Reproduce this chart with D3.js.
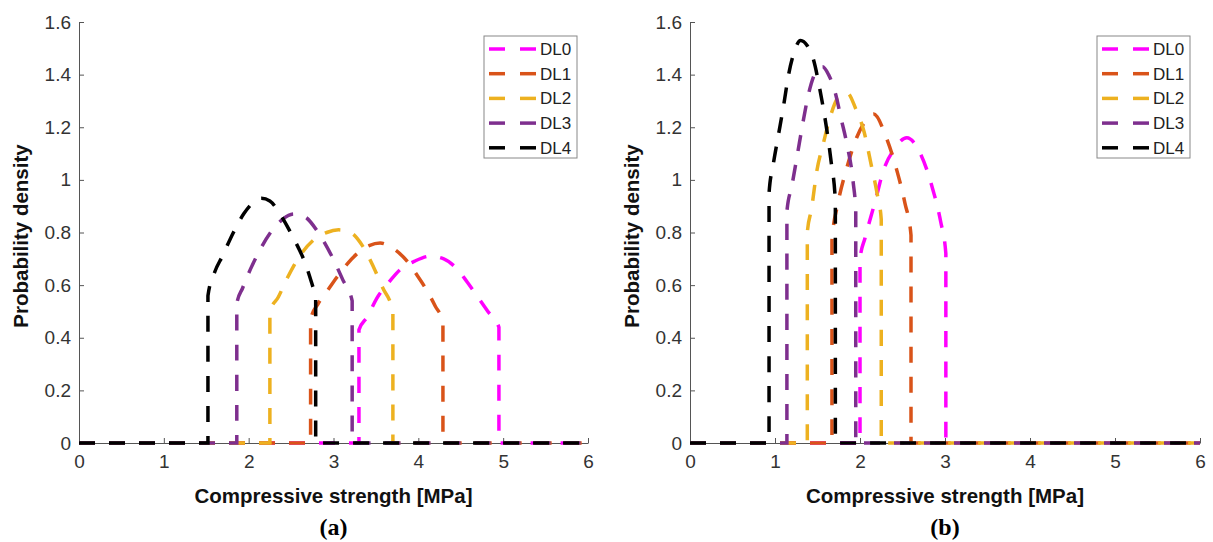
<!DOCTYPE html>
<html>
<head>
<meta charset="UTF-8">
<script src="https://d3js.org/d3.v7.min.js"></script>
<style>
  body { margin: 0; background: #fff; }
  text { font-family: "Liberation Sans", Arial, sans-serif; }
</style>
</head>
<body>
<script>
// series names and colours (MATLAB-like)
const names  = ["DL0", "DL1", "DL2", "DL3", "DL4"];
const colors = ["#ff00ff", "#d95319", "#edb120", "#7e2f8e", "#000000"];

const xTicks = [0, 1, 2, 3, 4, 5, 6];
const yTicks = [0, 0.2, 0.4, 0.6, 0.8, 1, 1.2, 1.4, 1.6];

// panel (a) - [x, density]
const a_DL0 = [[0,0],[3.30,0],[3.30,0.43],[3.40,0.48],[3.51,0.55],[3.65,0.61],[3.79,0.66],[3.95,0.69],[4.14,0.71],[4.30,0.70],[4.46,0.66],[4.58,0.61],[4.69,0.56],[4.82,0.50],[4.95,0.44],[4.95,0],[6,0]];
const a_DL1 = [[0,0],[2.73,0],[2.73,0.47],[2.82,0.53],[2.93,0.58],[3.04,0.63],[3.16,0.68],[3.28,0.72],[3.42,0.75],[3.55,0.76],[3.70,0.74],[3.87,0.69],[3.98,0.64],[4.10,0.58],[4.20,0.52],[4.29,0.46],[4.29,0],[6,0]];
const a_DL2 = [[0,0],[2.25,0],[2.25,0.50],[2.35,0.555],[2.46,0.63],[2.58,0.70],[2.76,0.77],[2.92,0.80],[3.06,0.81],[3.20,0.80],[3.34,0.75],[3.47,0.67],[3.58,0.59],[3.70,0.50],[3.70,0],[6,0]];
const a_DL3 = [[0,0],[1.86,0],[1.86,0.53],[1.93,0.59],[2.02,0.66],[2.11,0.72],[2.28,0.81],[2.40,0.85],[2.53,0.87],[2.66,0.86],[2.82,0.80],[2.98,0.71],[3.11,0.62],[3.22,0.54],[3.22,0],[6,0]];
const a_DL4 = [[0,0],[1.52,0],[1.52,0.56],[1.60,0.65],[1.69,0.71],[1.82,0.80],[1.94,0.87],[2.04,0.91],[2.15,0.93],[2.25,0.92],[2.35,0.88],[2.51,0.79],[2.67,0.68],[2.78,0.57],[2.79,0.56],[2.79,0],[6,0]];

// panel (b)
const b_DL0 = [[0,0],[2.00,0],[2.00,0.70],[2.06,0.78],[2.18,0.92],[2.27,1.03],[2.41,1.12],[2.55,1.16],[2.71,1.10],[2.86,0.96],[2.95,0.84],[3.01,0.72],[3.01,0],[6,0]];
const b_DL1 = [[0,0],[1.67,0],[1.67,0.77],[1.74,0.91],[1.84,1.04],[1.96,1.16],[2.08,1.23],[2.16,1.25],[2.31,1.16],[2.43,1.04],[2.53,0.91],[2.60,0.79],[2.60,0],[6,0]];
const b_DL2 = [[0,0],[1.38,0],[1.38,0.80],[1.43,0.89],[1.49,1.03],[1.57,1.14],[1.65,1.24],[1.76,1.32],[1.85,1.33],[1.95,1.27],[2.05,1.18],[2.13,1.06],[2.20,0.95],[2.25,0.85],[2.25,0],[6,0]];
const b_DL3 = [[0,0],[1.14,0],[1.14,0.88],[1.20,0.98],[1.26,1.09],[1.33,1.22],[1.39,1.32],[1.48,1.41],[1.56,1.43],[1.63,1.40],[1.71,1.33],[1.78,1.23],[1.85,1.13],[1.92,0.99],[1.95,0.88],[1.95,0],[6,0]];
const b_DL4 = [[0,0],[0.93,0],[0.93,0.95],[0.98,1.06],[1.04,1.17],[1.10,1.28],[1.16,1.40],[1.23,1.49],[1.30,1.53],[1.38,1.51],[1.45,1.46],[1.53,1.34],[1.60,1.21],[1.66,1.07],[1.71,0.92],[1.71,0],[6,0]];

const W = 1213, H = 542;
const svg = d3.select("body").append("svg").attr("width", W).attr("height", H);

function panel(left, right, series, legendX, caption) {
  const top = 22, bottom = 443;
  const x = d3.scaleLinear().domain([0, 6]).range([left, right]);
  const y = d3.scaleLinear().domain([0, 1.6]).range([bottom, top]);
  const g = svg.append("g");

  // axes (ticks inward, MATLAB style)
  const xa = g.append("g").attr("transform", `translate(0,${bottom})`)
    .call(d3.axisBottom(x).tickValues(xTicks).tickFormat(d3.format("d")).tickSizeInner(-5).tickSizeOuter(0).tickPadding(12));
  const ya = g.append("g").attr("transform", `translate(${left},0)`)
    .call(d3.axisLeft(y).tickValues(yTicks).tickFormat(d => d3.format("~g")(d)).tickSizeInner(-5).tickSizeOuter(0).tickPadding(8));
  [xa, ya].forEach(a => {
    a.select(".domain").attr("stroke", "#555").attr("stroke-width", 1);
    a.selectAll(".tick line").attr("stroke", "#555");
    a.selectAll(".tick text").attr("fill", "#333").style("font-size", "19px")
      .style("font-family", "'Liberation Sans', Arial, sans-serif");
  });

  const line = d3.line().x(d => x(d[0])).y(d => y(d[1])).curve(d3.curveMonotoneX);
  series.forEach((s, i) => {
    g.append("path").datum(s)
      .attr("fill", "none").attr("stroke", colors[i])
      .attr("stroke-width", 3.5).attr("stroke-dasharray", "16,14")
      .attr("d", line);
  });

  // axis titles
  g.append("text").attr("x", (left + right) / 2).attr("y", 503)
    .attr("text-anchor", "middle").style("font-size", "20.5px").style("font-weight", "bold")
    .attr("fill", "#111").text("Compressive strength [MPa]");
  g.append("text").attr("transform", `translate(${left - 51},236) rotate(-90)`)
    .attr("text-anchor", "middle").style("font-size", "20.5px").style("font-weight", "bold")
    .attr("fill", "#111").text("Probability density");
  g.append("text").attr("x", (left + right) / 2).attr("y", 535)
    .attr("text-anchor", "middle").style("font-family", "'Liberation Serif', 'Times New Roman', serif")
    .style("font-size", "24px").style("font-weight", "bold").attr("fill", "#000").text(caption);

  // legend
  const lg = g.append("g").attr("transform", `translate(${legendX},36)`);
  lg.append("rect").attr("width", 93).attr("height", 122)
    .attr("fill", "#fff").attr("stroke", "#888").attr("stroke-width", 1);
  names.forEach((n, i) => {
    const yy = 13 + i * 24.7;
    lg.append("line").attr("x1", 5).attr("x2", 21).attr("y1", yy).attr("y2", yy)
      .attr("stroke", colors[i]).attr("stroke-width", 3.5);
    lg.append("line").attr("x1", 36).attr("x2", 52).attr("y1", yy).attr("y2", yy)
      .attr("stroke", colors[i]).attr("stroke-width", 3.5);
    lg.append("text").attr("x", 56).attr("y", yy + 6).style("font-size", "17px")
      .attr("fill", "#222").text(n);
  });
}

panel(79, 588, [a_DL0, a_DL1, a_DL2, a_DL3, a_DL4], 484, "(a)");
panel(690, 1200, [b_DL0, b_DL1, b_DL2, b_DL3, b_DL4], 1097, "(b)");
</script>
</body>
</html>
